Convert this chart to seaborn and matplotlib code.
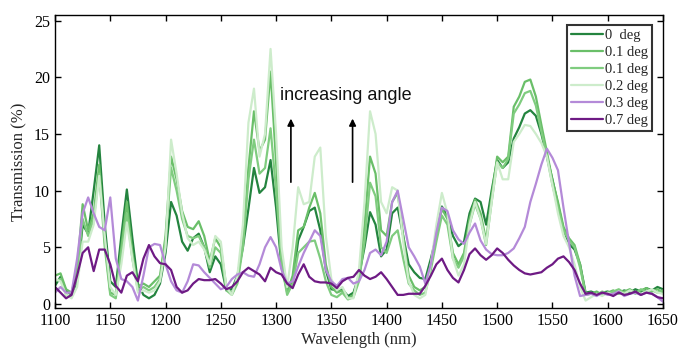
import numpy as np
import pandas as pd
import matplotlib
matplotlib.use("Agg")
import matplotlib.pyplot as plt
import seaborn as sns

wavelength = list(range(1100, 1651, 5))

t0_deg = [
    1.6, 2.4, 1.2, 0.8, 2.0, 7.0, 6.2, 10.0, 14.0, 7.0,
    2.0, 1.5, 6.0, 10.1, 5.8, 1.8, 0.8, 0.5, 0.8, 1.8,
    4.5, 9.0, 7.8, 5.5, 4.7, 5.8, 6.2, 5.0, 2.8, 4.2,
    3.5, 1.2, 1.3, 2.5, 5.0, 8.4, 12.0, 9.8, 10.3, 12.7,
    8.5, 3.2, 1.2, 2.0, 5.6, 6.8, 8.2, 8.5, 6.5, 3.0,
    1.3, 1.2, 1.3, 0.7, 1.0, 2.5, 5.0, 8.1, 7.0, 4.2,
    4.8, 8.0, 8.5, 6.0, 3.5, 2.8, 2.3, 2.2, 4.0, 6.0,
    8.6, 7.8, 6.0, 5.1, 5.5, 8.0, 9.3, 9.0, 7.0, 10.0,
    12.7, 12.0, 12.5, 14.6, 15.6, 16.8, 17.1, 16.6, 15.0, 13.0,
    11.0, 8.8, 6.6, 5.3, 4.8, 3.5, 1.0, 1.1, 0.9, 1.0,
    1.1, 0.9, 1.0, 1.2, 1.0, 1.3, 1.1, 1.4, 1.2, 1.5, 1.3,
]

t01a_deg = [
    2.5, 2.7, 1.3, 1.0, 3.0, 8.8, 6.5, 8.0, 12.3, 5.5,
    1.0, 0.8, 5.0, 9.0, 4.5, 1.5, 1.8, 1.5, 2.0, 2.5,
    6.0, 13.0, 11.0, 8.2, 6.8, 6.6, 7.3, 6.0, 3.8, 5.8,
    5.0, 1.5, 0.9, 2.0, 5.5, 12.0, 17.0, 13.5, 14.5, 20.5,
    12.5, 4.0, 1.0, 2.5, 6.5, 6.8, 8.5, 9.8, 8.0, 3.5,
    1.5, 1.0, 1.2, 0.5, 0.8, 2.5, 7.0, 13.0, 11.5, 6.5,
    6.0, 9.0, 9.8, 6.0, 2.5, 1.5, 1.2, 1.5, 3.5, 6.0,
    8.4, 7.5, 4.5, 3.5, 4.5, 7.5, 9.2, 8.0, 5.6, 9.5,
    13.0, 12.5, 13.0, 17.4, 18.3, 19.6, 19.8, 18.3, 15.8, 13.4,
    10.9, 9.0, 6.8, 5.8, 5.2, 3.5, 0.8, 0.9, 1.1, 0.8,
    1.0, 1.2, 0.9, 1.1, 1.3, 1.0, 1.2, 1.4, 1.1, 1.3, 1.0,
]

t01b_deg = [
    2.0, 2.2, 0.8, 0.6, 2.5, 7.5, 6.0, 7.5, 11.5, 5.0,
    0.8, 0.5, 4.5, 8.0, 4.0, 1.2, 1.5, 1.2, 1.5, 2.2,
    5.5, 12.0, 10.0, 7.5, 6.0, 5.8, 6.0, 5.0, 3.2, 5.0,
    4.5, 1.2, 0.8, 1.8, 5.0, 11.0, 14.5, 11.5, 12.0, 15.5,
    10.0, 3.5, 0.8, 1.8, 4.5, 5.0, 5.5, 5.6, 4.0, 2.0,
    0.8, 0.6, 1.0, 0.4, 0.6, 2.0, 5.5, 10.7, 9.5, 5.0,
    4.5, 6.0, 6.5, 4.0, 1.8, 1.2, 0.8, 1.0, 3.0, 5.5,
    7.8, 7.0, 4.0, 3.2, 4.2, 7.0, 8.8, 7.5, 5.2, 9.0,
    12.5, 12.0, 12.8, 16.8, 17.6, 18.6, 18.8, 17.5, 15.2, 13.0,
    10.5, 8.5, 6.5, 5.6, 5.0, 3.2, 0.9, 1.0, 0.8, 1.1,
    0.9, 1.1, 1.3, 1.0, 1.2, 0.9, 1.3, 1.1, 1.2, 1.0, 1.2,
]

t02_deg = [
    2.2, 2.0, 0.8, 0.5, 1.5, 5.5, 5.5, 7.0, 11.3, 6.0,
    1.5, 0.8, 3.5, 7.2, 4.0, 1.0, 1.2, 1.0, 1.2, 2.0,
    5.0, 14.5, 11.5, 8.0, 5.8, 5.2, 5.5, 4.8, 3.5, 6.0,
    5.5, 1.5, 0.8, 2.5, 7.0, 16.0, 19.0, 13.0, 15.0, 22.5,
    15.0, 5.0, 1.5, 5.0, 10.3, 8.8, 9.0, 13.0, 13.8, 6.0,
    2.2, 1.2, 1.5, 0.5, 0.5, 3.0, 9.0, 17.0, 15.0, 9.0,
    8.0, 10.3, 10.0, 5.5, 2.0, 0.8, 0.5, 0.8, 3.5, 7.0,
    9.8, 8.0, 4.0, 2.5, 3.5, 7.0, 9.0, 7.5, 5.3, 9.0,
    12.5, 11.0, 11.0, 14.3, 15.0, 15.8, 15.7, 15.0, 14.2, 13.0,
    10.5, 8.0, 6.0, 5.0, 3.5, 1.5, 0.3, 0.6, 0.9, 0.7,
    1.0, 0.8, 1.1, 0.9, 1.2, 1.0, 0.8, 1.1, 1.3, 1.0, 0.9,
]

t03_deg = [
    1.0, 1.5, 1.0, 1.0, 4.0, 8.0, 9.4, 8.0, 6.8, 6.5,
    9.4, 4.0, 2.2, 2.0, 1.5, 0.3, 2.5, 5.0, 5.3, 5.2,
    3.5, 2.0, 1.2, 1.0, 2.0, 3.5, 3.4, 2.8, 2.3, 1.8,
    1.3, 1.5, 2.2, 2.6, 2.8, 2.5, 2.4, 3.5, 5.0, 5.9,
    5.0, 3.0, 1.8, 2.0, 3.3, 4.5, 5.5, 6.5, 6.0, 3.0,
    2.0, 1.6, 2.2, 2.3, 1.8, 2.0, 3.0, 4.5, 4.8, 4.3,
    5.5, 9.0, 10.0, 7.5, 5.0, 4.2, 3.3, 1.8, 3.5, 6.3,
    8.5, 8.2, 6.5, 5.7, 5.3, 6.3, 7.1, 5.6, 4.8, 4.4,
    4.3, 4.3, 4.5, 4.9, 5.8, 6.8, 9.0, 10.6, 12.3, 13.7,
    12.9, 11.8, 8.5, 5.4, 2.5, 0.7, 0.8, 0.9, 0.7, 1.0,
    0.8, 0.9, 1.1, 0.7, 0.9, 1.0, 0.8, 1.0, 0.9, 0.6, 0.2,
]

t07_deg = [
    1.5, 1.0, 0.5, 0.8, 2.5, 4.5, 5.0, 2.9, 4.8, 4.8,
    3.5, 1.6, 1.0, 2.5, 2.8, 2.0, 4.0, 5.2, 4.2, 3.6,
    3.5, 3.0, 1.5, 1.0, 1.2, 1.8, 2.2, 2.1, 2.1, 2.2,
    1.8, 1.3, 1.5, 2.0, 2.8, 3.2, 2.9, 2.6, 2.0, 3.2,
    2.8, 2.6, 1.8, 1.4, 2.6, 3.5, 2.4, 2.0, 1.9, 1.9,
    1.8, 1.4, 2.0, 2.3, 2.4, 3.0, 2.5, 2.2, 2.4, 2.8,
    2.2, 1.5, 0.8, 0.8, 0.9, 0.9, 0.9, 1.6, 2.5, 3.5,
    4.0, 3.0, 2.3, 1.9, 3.0, 4.4, 4.9, 4.3, 3.9, 4.3,
    4.9, 4.5, 3.9, 3.4, 3.0, 2.7, 2.6, 2.7, 2.8, 3.2,
    3.5, 4.0, 4.2, 3.7, 3.0, 1.8, 0.9, 1.0, 0.8, 1.0,
    0.9, 0.7, 1.0, 0.8, 0.9, 1.1, 0.8, 1.0, 0.9, 0.6, 0.5,
]

labels = ["0  deg", "0.1 deg", "0.1 deg", "0.2 deg", "0.3 deg", "0.7 deg"]
colors = ["#24843f", "#6abf69", "#7fcc7f", "#cdeccb", "#b48ad8", "#6e1a84"]
series = [t0_deg, t01a_deg, t01b_deg, t02_deg, t03_deg, t07_deg]

sns.set_style("ticks")
plt.rcParams["font.family"] = ["Liberation Serif", "DejaVu Serif"]

fig = plt.figure(figsize=(6.79, 3.56), dpi=100)
ax = fig.add_axes([0.081, 0.135, 0.8954, 0.823])

for vals, lab, col in zip(series, labels, colors):
    df = pd.DataFrame({"Wavelength": wavelength, "Transmission": vals})
    sns.lineplot(data=df, x="Wavelength", y="Transmission", color=col,
                 label=lab, linewidth=1.6, ax=ax)

ax.set_xlim(1100, 1650)
ax.set_ylim(-0.35, 25.5)
ax.set_xticks(range(1100, 1651, 50))
ax.set_yticks(range(0, 26, 5))
ax.tick_params(direction="in", top=True, right=True, length=4, width=1,
               labelsize=11.5, colors="black")
for sp in ax.spines.values():
    sp.set_visible(True)
    sp.set_linewidth(1.0)
    sp.set_color("black")
ax.set_xlabel("Wavelength (nm)", fontsize=12, labelpad=2)
ax.set_ylabel("Transmission (%)", fontsize=12, labelpad=5)

leg = ax.legend(loc="upper right", bbox_to_anchor=(0.982, 0.966),
                borderaxespad=0, fancybox=False, frameon=True,
                fontsize=10.5, handlelength=2.2, handletextpad=0.1,
                labelspacing=0.25, borderpad=0.3)
leg.get_frame().set_edgecolor("black")
leg.get_frame().set_linewidth(1.5)

ax.text(1303.4, 18.4, "increasing angle", ha="left", va="center",
        fontsize=13, family=["Liberation Sans", "DejaVu Sans"], color="#111111")
for xa in (1313.4, 1369.2):
    ax.annotate("", xy=(xa, 16.6), xytext=(xa, 10.5),
                arrowprops=dict(arrowstyle="-|>", color="black", lw=1.2,
                                mutation_scale=10))

fig.savefig("out.png", dpi=100)
